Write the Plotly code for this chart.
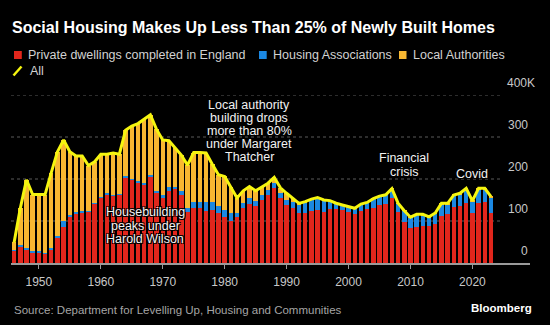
import plotly.graph_objects as go

# Permanent dwellings completed in England, thousands per year
years = list(range(1946, 2024))

private = [29, 40, 32, 25, 26, 22, 32, 59, 85, 110,
           118, 120, 122, 142, 156, 164, 161, 163, 204, 198,
           191, 187, 204, 166, 154, 172, 176, 163, 122, 132,
           130, 124, 126, 120, 110, 100, 110, 130, 140, 135,
           150, 162, 178, 154, 138, 130, 120, 118, 124, 126,
           122, 128, 128, 126, 122, 116, 124, 128, 132, 138,
           140, 155, 122, 98, 84, 85, 89, 88, 92, 112,
           116, 134, 135, 144, 120, 144, 145, 120]

housing_assoc = [1, 2, 3, 3, 3, 3, 4, 5, 15, 4,
                 3, 3, 2, 2, 2, 2, 2, 2, 4, 3,
                 4, 4, 5, 6, 8, 10, 6, 8, 10, 14,
                 16, 21, 20, 16, 17, 18, 9, 13, 14, 13,
                 11, 11, 12, 12, 13, 16, 20, 26, 27, 29,
                 27, 20, 14, 12, 12, 14, 16, 16, 21, 21,
                 22, 22, 20, 26, 24, 30, 25, 21, 25, 28,
                 24, 26, 29, 32, 26, 32, 31, 36]

local_auth = [19, 88, 163, 135, 134, 138, 179, 201, 193, 151,
              134, 132, 108, 97, 101, 93, 99, 94, 108, 125,
              137, 151, 144, 146, 131, 109, 93, 86, 101, 117,
              117, 117, 89, 74, 79, 64, 36, 29, 28, 24,
              19, 17, 14, 13, 15, 8, 2, 2, 1, 1,
              1, 0.5, 0.3, 0.1, 0.1, 0.2, 0.2, 0.2, 0.1, 0.2,
              0.3, 0.2, 0.5, 0.3, 1, 1, 2, 1, 2, 2,
              2, 2, 2, 2, 2, 2, 2, 2]

all_homes = [p + h + l for p, h, l in zip(private, housing_assoc, local_auth)]

y_ticks = [0, 100, 200, 300, 400]
y_tick_text = ["0", "100", "200", "300", "400K"]
x_ticks = list(range(1950, 2030, 10))

RED = "#e1261c"
BLUE = "#1b88e2"
ORANGE = "#f8b731"
YELLOW = "#f5f50f"
FONT = "Liberation Sans, Arial, sans-serif"

W, H = 550, 325
ML, MR, MT, MB = 11, 20, 95, 62
X0, X1 = 1945.5, 2029.3
PW, PH = W - ML - MR, H - MT - MB


def px_x(px):
    return (px - ML) / PW


def px_y(py):
    return (H - MB - py) / PH


def data_x(px):
    return X0 + (px - ML) / PW * (X1 - X0)


fig = go.Figure()
fig.add_bar(x=years, y=private, name="Private dwellings completed in England",
            marker=dict(color=RED, line=dict(width=0)))
fig.add_bar(x=years, y=housing_assoc, name="Housing Associations",
            marker=dict(color=BLUE, line=dict(width=0)))
fig.add_bar(x=years, y=local_auth, name="Local Authorities",
            marker=dict(color=ORANGE, line=dict(width=0)))
fig.add_scatter(x=years, y=all_homes, name="All", mode="lines",
                line=dict(color=YELLOW, width=3))

shapes = []
# dotted gridlines
for v in y_ticks[1:]:
    shapes.append(dict(type="line", xref="x", yref="y", x0=X0, x1=data_x(500),
                       y0=v, y1=v, line=dict(color="#5a5a5a", width=1, dash="dot"),
                       layer="below"))

annotations = []
# y tick labels sitting above their gridlines
for v, t in zip(y_ticks, y_tick_text):
    right = 537 if t.endswith("K") else 530
    annotations.append(dict(text=t, xref="paper", yref="y", x=px_x(right), y=v,
                            xanchor="right", yanchor="middle", yshift=12,
                            showarrow=False, font=dict(family=FONT, size=12, color="#c8c8c8")))

# legend
legend_items = [
    (RED, 14, 21.8, 26.3, "Private dwellings completed in England"),
    (BLUE, 259, 266.7, 271, "Housing Associations"),
    (ORANGE, 399, 406.5, 411, "Local Authorities"),
]
for color, sx0, sx1, tx, label in legend_items:
    shapes.append(dict(type="rect", xref="paper", yref="paper",
                       x0=px_x(sx0), x1=px_x(sx1), y0=px_y(59), y1=px_y(51),
                       fillcolor=color, line=dict(width=0)))
    annotations.append(dict(text=label, xref="paper", yref="paper", x=px_x(tx), y=px_y(55),
                            xanchor="left", yanchor="middle", showarrow=False,
                            font=dict(family=FONT, size=12.5, color="#d2d2d2")))
shapes.append(dict(type="line", xref="paper", yref="paper",
                   x0=px_x(13.5), x1=px_x(21.5), y0=px_y(75.5), y1=px_y(66.5),
                   line=dict(color=YELLOW, width=2.5)))
annotations.append(dict(text="All", xref="paper", yref="paper", x=px_x(27.5), y=px_y(71),
                        xanchor="left", yanchor="middle", showarrow=False,
                        font=dict(family=FONT, size=12.5, color="#d2d2d2")))

# chart notes
OUTLINE = "-1px -1px 0 #000, 1px -1px 0 #000, -1px 1px 0 #000, 1px 1px 0 #000"
notes = [
    (145, [(212.3, "Housebuilding"), (225.7, "peaks under"), (239, "Harold Wilson")]),
    (249, [(105, "Local authority"), (118, "building drops"), (131, "more than 80%"),
           (144.3, "under Margaret"), (157.3, "Thatcher")]),
    (404, [(158.3, "Financial"), (171.7, "crisis")]),
    (472, [(174, "Covid")]),
]
for cx, lines in notes:
    for cy, txt in lines:
        annotations.append(dict(text=txt, xref="paper", yref="paper", x=px_x(cx), y=px_y(cy),
                                xanchor="center", yanchor="middle", showarrow=False,
                                font=dict(family=FONT, size=12.5, color="#f2f2f2",
                                          shadow=OUTLINE)))

# footer
annotations.append(dict(text="Source: Department for Levelling Up, Housing and Communities",
                        xref="paper", yref="paper", x=px_x(12), y=px_y(310),
                        xanchor="left", yanchor="middle", showarrow=False,
                        font=dict(family=FONT, size=11.5, color="#a5a5a5")))
annotations.append(dict(text="<b>Bloomberg</b>", xref="paper", yref="paper",
                        x=px_x(533.5), y=px_y(307.5), xanchor="right", yanchor="middle",
                        showarrow=False, font=dict(family=FONT, size=11.5, color="#ffffff")))

fig.update_layout(
    width=W, height=H,
    margin=dict(l=ML, r=MR, t=MT, b=MB, pad=0),
    paper_bgcolor="#000000", plot_bgcolor="#000000",
    barmode="stack", bargap=0.28,
    showlegend=False,
    title=dict(text="<b>Social Housing Makes Up Less Than 25% of Newly Built Homes</b>",
               xref="container", yref="container", x=12 / W, xanchor="left",
               y=1 - 27.4 / H, yanchor="middle",
               font=dict(family=FONT, size=16, color="#ffffff")),
    xaxis=dict(range=[X0, X1], tickvals=x_ticks, ticks="outside", ticklen=4,
               tickwidth=1, tickcolor="#9a9a9a", showgrid=False, zeroline=False,
               showline=True, linecolor="#9a9a9a", linewidth=1.5,
               tickfont=dict(family=FONT, size=12, color="#c8c8c8"),
               ticklabelstandoff=3, fixedrange=True),
    yaxis=dict(range=[0, 400], showgrid=False, zeroline=False, showticklabels=False,
               ticks="", fixedrange=True),
    shapes=shapes,
    annotations=annotations,
)

fig.write_html("out.html")
